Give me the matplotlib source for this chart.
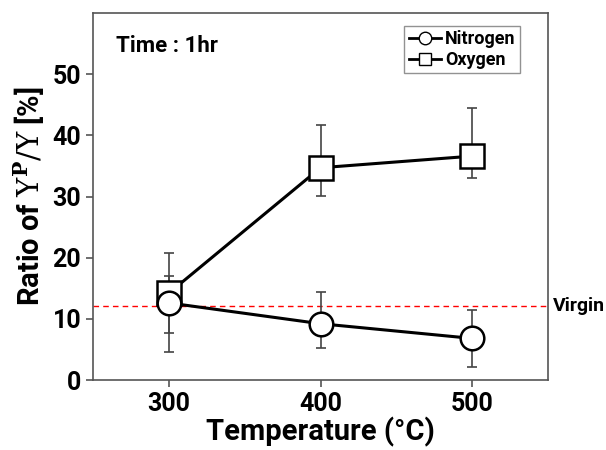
import numpy as np
import matplotlib
matplotlib.use('Agg')
import matplotlib.pyplot as plt

plt.rcParams['font.family'] = ['Roboto', 'DejaVu Sans']
plt.rcParams['mathtext.fontset'] = 'dejavuserif'

temp = [300, 400, 500]
nitrogen = [12.6, 9.2, 6.8]
nitrogen_lo = [4.5, 5.2, 2.2]
nitrogen_hi = [17.0, 14.4, 11.4]
oxygen = [14.2, 34.7, 36.6]
oxygen_lo = [7.7, 30.1, 33.0]
oxygen_hi = [20.7, 41.7, 44.4]
virgin = 12.1

fig = plt.figure(figsize=(6.06, 4.5), dpi=100)
ax = fig.add_axes([93/606, 70/450, 455/606, 367/450])

def draw(x, y, lo, hi, marker, label):
    y = np.array(y)
    yerr = [y - np.array(lo), np.array(hi) - y]
    ax.errorbar(x, y, yerr=yerr, fmt='none', ecolor='#444444', elinewidth=1.2,
                capsize=3.5, capthick=1.2, zorder=2)
    ax.plot(x, y, '-', color='black', lw=2.2, zorder=3)
    ax.plot(x, y, marker, ms=17, mfc='white', mec='black', mew=1.8, ls='none', zorder=4)
    ax.plot([], [], '-' + marker, color='black', mfc='white', mec='black', ms=9, lw=2, label=label)

draw(temp, oxygen, oxygen_lo, oxygen_hi, 's', 'Oxygen')
draw(temp, nitrogen, nitrogen_lo, nitrogen_hi, 'o', 'Nitrogen')

ax.axhline(virgin, color='red', ls='--', lw=1, dashes=(4, 3), zorder=1)
ax.text(1.01, virgin, 'Virgin', transform=ax.get_yaxis_transform(), va='center',
        ha='left', fontsize=14, fontweight='bold')

ax.set_xlim(250, 550)
ax.set_ylim(0, 60)
ax.set_xticks([300, 400, 500])
ax.set_yticks([0, 10, 20, 30, 40, 50])
ax.tick_params(labelsize=18, width=1.2, length=5, color='#555555')
for t in ax.get_xticklabels() + ax.get_yticklabels():
    t.set_fontweight('bold')
for s in ax.spines.values():
    s.set_color('#555555')
    s.set_linewidth(1.2)

ax.set_xlabel('Temperature (°C)', fontsize=21, fontweight='bold', labelpad=1)
ax.set_ylabel(r'Ratio of $\Upsilon^{\mathbf{P}}/\Upsilon$ [%]', fontsize=21, fontweight='bold')
ax.text(0.05, 0.895, 'Time : 1hr', transform=ax.transAxes, fontsize=16, fontweight='bold')

h, l = ax.get_legend_handles_labels()
leg = ax.legend(h[::-1], l[::-1], loc='upper right', bbox_to_anchor=(0.95, 0.98),
                fancybox=False, edgecolor='#777777', fontsize=13, handlelength=1.8,
                handletextpad=0.2, borderpad=0.25, labelspacing=0.15, borderaxespad=0.3)
for t in leg.get_texts():
    t.set_fontweight('bold')

fig.savefig('out.png', dpi=100)
